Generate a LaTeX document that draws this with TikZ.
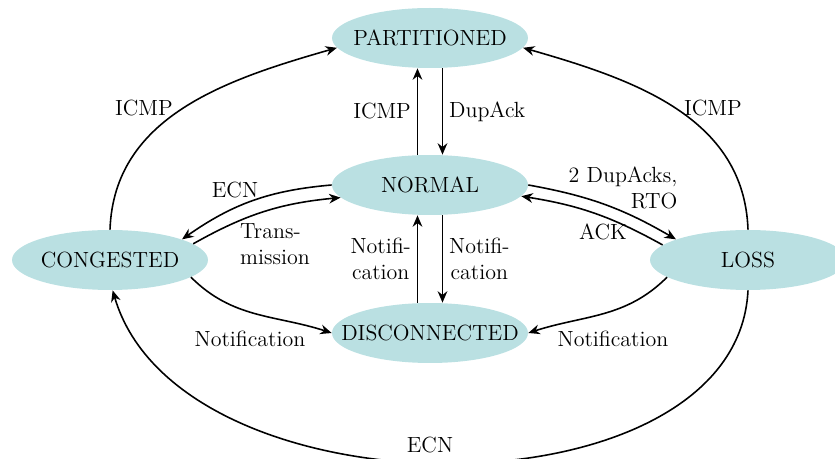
\documentclass[tikz,border=0pt]{standalone}
\usetikzlibrary{shapes.geometric,arrows.meta}
\definecolor{statefill}{RGB}{186,224,226}

\begin{document}
\begin{tikzpicture}[x=0.02cm, y=0.02cm, font=\fontsize{12.5}{14.5}\selectfont,
    state/.style={ellipse, fill=statefill, minimum width=3.92cm, minimum height=1.2cm, inner xsep=-1cm},
    trans/.style={-{Stealth[length=6.5pt,width=5.5pt]}, line width=.9pt}]
  \useasboundingbox (0,0) rectangle (835,459);
  % states
  \node[state] (part) at (430,421) {PARTITIONED};
  \node[state] (norm) at (430,274) {NORMAL};
  \node[state] (disc) at (430,126) {DISCONNECTED};
  \node[state] (cong) at (110,199) {CONGESTED};
  \node[state] (loss) at (748,199) {LOSS};
  % vertical transitions
  \draw[trans] ([xshift=-.25cm]norm.north) -- ([xshift=-.25cm]part.south) node[midway,left] (icmpN) {ICMP};
  \draw[trans] ([xshift=.25cm]part.south) -- ([xshift=.25cm]norm.north) node[midway,right] (dupack) {DupAck};
  \draw[trans] ([xshift=-.25cm]disc.north) -- ([xshift=-.25cm]norm.south) node[midway,left,align=center] (notUp) {Notifi-\\cation};
  \draw[trans] ([xshift=.25cm]norm.south) -- ([xshift=.25cm]disc.north) node[midway,right,align=center] (notDn) {Notifi-\\cation};
  % to partitioned
  \draw[trans] (cong.north) to[out=88,in=196] (part.186);
  \draw[trans] (loss.north) to[out=92,in=-16] (part.-6);
  \node (icmpC) at (144,351) {ICMP};
  \node (icmpL) at (713,351) {ICMP};
  % normal <-> congested, loss
  \draw[trans] (norm.west) to[bend right=15] (cong.16);
  \draw[trans] (cong.11) to[bend left=12] (norm.188);
  \draw[trans] (norm.east) to[bend left=10] (loss.164);
  \draw[trans] (loss.170) to[bend right=10] (norm.-7);
  \node (ecnN) at (235,269) {ECN};
  \node[align=left] (transm) at (275,215) {Trans-\\mission};
  \node[align=right] (dupacks) at (623,271) {2 DupAcks,\\RTO};
  \node (ack) at (603,227) {ACK};
  % to disconnected
  \draw[trans] (cong.-12) to[out=-45,in=162] (disc.west);
  \draw[trans] (loss.192) to[out=-135,in=18] (disc.east);
  \node (notC) at (250,120) {Notification};
  \node (notL) at (613,120) {Notification};
  % loss -> congested
  \draw[trans] (loss.south) .. controls +(-11,-230) and +(67,-230) .. (cong.-85);
  \node (ecnL) at (430,14) {ECN};
\end{tikzpicture}
\end{document}
